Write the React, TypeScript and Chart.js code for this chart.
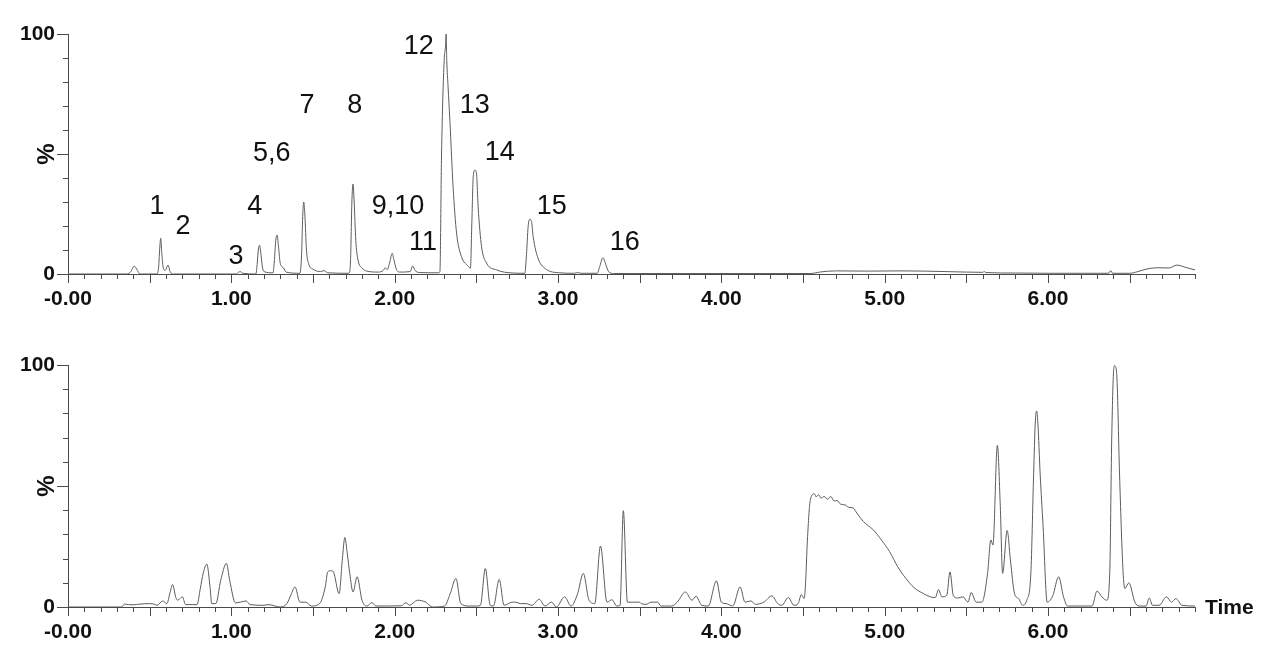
import { useEffect, useRef } from "react";
import { Chart, registerables } from "chart.js";

Chart.register(...registerables);

// ---------- data ----------
const topTimes = [
  0, 0.36, 0.385, 0.405, 0.425, 0.44, 0.545, 0.555, 0.561, 0.5675,
  0.574, 0.582, 0.595, 0.6125, 0.625, 0.645, 1.03, 1.045, 1.055, 1.07,
  1.15, 1.158, 1.165, 1.1725, 1.18, 1.19, 1.2, 1.255, 1.263, 1.272,
  1.28, 1.288, 1.298, 1.31, 1.32, 1.335, 1.42, 1.43, 1.437, 1.443,
  1.45, 1.46, 1.475, 1.5, 1.545, 1.5675, 1.59, 1.72, 1.73, 1.738,
  1.745, 1.752, 1.762, 1.775, 1.8, 1.83, 1.9, 1.93, 1.9425, 1.955,
  1.97, 1.985, 1.995, 2.01, 2.03, 2.095, 2.11, 2.125, 2.15, 2.27,
  2.277, 2.287, 2.303, 2.311, 2.315, 2.319, 2.327, 2.338, 2.358, 2.379,
  2.409, 2.45, 2.464, 2.472, 2.481, 2.491, 2.501, 2.511, 2.532, 2.562,
  2.624, 2.725, 2.797, 2.807, 2.817, 2.827, 2.838, 2.848, 2.878, 2.919,
  3.011, 3.1, 3.12, 3.14, 3.24, 3.255, 3.275, 3.29, 3.31, 3.34,
  4.55, 4.6, 4.7, 4.9, 5.1, 5.25, 5.5, 5.6, 5.61, 5.62,
  5.8, 6.0, 6.37, 6.385, 6.395, 6.5, 6.55, 6.6, 6.63, 6.68,
  6.74, 6.79, 6.84, 6.9,
];
const topValues = [
  0, 0, 1, 3.3, 1.5, 0, 0, 3, 10, 14.9,
  9, 3, 1.5, 3.7, 1, 0, 0, 0.8, 1, 0.3,
  0, 4, 10, 12, 9, 3, 1, 0.5, 5, 14,
  16.2, 12, 5, 3, 2.5, 0.8, 0.3, 8, 24, 30,
  25, 10, 4, 2, 1, 1.4, 0.5, 0.3, 6, 30,
  37.5, 30, 14, 6, 2.5, 1.2, 0.8, 1.5, 2.6, 1.8,
  5, 8.6, 6, 2, 0.8, 1, 3.3, 1.5, 0.6, 0.5,
  1, 50, 89, 94.7, 100, 89, 78, 64, 36, 17,
  7.2, 3.3, 2.4, 20, 40.5, 43.3, 42, 28, 11.4, 4.6,
  1.7, 0.4, 0.3, 8, 19.7, 22.8, 21.9, 15.5, 6.5, 2.4,
  0.5, 0.3, 0.6, 0.3, 0.3, 3, 6.8, 4.5, 1, 0.2,
  0.2, 0.8, 1.3, 1.2, 1.3, 1.2, 0.8, 0.7, 1, 0.6,
  0.4, 0.3, 0.3, 1.4, 0.3, 0.3, 1, 2, 2.4, 2.6,
  2.5, 3.7, 2.8, 1.7,
];

const bottomTimes = [
  0, 0.33, 0.345, 0.37, 0.4, 0.44, 0.5, 0.53, 0.545, 0.58,
  0.605, 0.625, 0.64, 0.66, 0.672, 0.7, 0.72, 0.76, 0.79, 0.81,
  0.828, 0.85, 0.87, 0.88, 0.905, 0.935, 0.97, 0.99, 1.025, 1.055,
  1.09, 1.115, 1.2, 1.225, 1.3, 1.34, 1.365, 1.39, 1.42, 1.455,
  1.49, 1.54, 1.575, 1.59, 1.61, 1.625, 1.66, 1.68, 1.695, 1.71,
  1.725, 1.745, 1.77, 1.8, 1.83, 1.86, 1.885, 2.04, 2.07, 2.09,
  2.14, 2.19, 2.23, 2.305, 2.34, 2.375, 2.405, 2.455, 2.505, 2.525,
  2.555, 2.585, 2.605, 2.64, 2.67, 2.72, 2.74, 2.77, 2.805, 2.84,
  2.885, 2.92, 2.96, 2.99, 3.04, 3.08, 3.12, 3.155, 3.19, 3.225,
  3.26, 3.3, 3.33, 3.36, 3.38, 3.4, 3.425, 3.455, 3.5, 3.51,
  3.54, 3.57, 3.61, 3.63, 3.695, 3.73, 3.78, 3.82, 3.845, 3.88,
  3.92, 3.97, 4.0, 4.03, 4.07, 4.115, 4.145, 4.18, 4.21, 4.26,
  4.31, 4.345, 4.37, 4.41, 4.445, 4.47, 4.49, 4.507, 4.515, 4.527,
  4.545, 4.57, 4.58, 4.595, 4.61, 4.63, 4.65, 4.67, 4.69, 4.708,
  4.73, 4.757, 4.78, 4.807, 4.83, 4.87, 4.93, 4.98, 5.03, 5.08,
  5.13, 5.18, 5.23, 5.28, 5.31, 5.33, 5.35, 5.38, 5.4, 5.42,
  5.445, 5.48, 5.51, 5.53, 5.56, 5.595, 5.63, 5.65, 5.663, 5.69,
  5.708, 5.722, 5.75, 5.77, 5.795, 5.82, 5.845, 5.87, 5.895, 5.912,
  5.922, 5.93, 5.938, 5.952, 5.97, 5.995, 6.03, 6.065, 6.095, 6.12,
  6.27, 6.3, 6.33, 6.36, 6.378, 6.39, 6.402, 6.4075, 6.42, 6.438,
  6.458, 6.47, 6.495, 6.532, 6.557, 6.6, 6.62, 6.64, 6.68, 6.725,
  6.757, 6.783, 6.82, 6.9,
];
const bottomValues = [
  0, 0, 1.2, 1.0, 0.9, 1.2, 1.4, 1.1, 0.7, 2.5,
  1.4, 6, 9.3, 4, 2.8, 4.2, 1.0, 1.0, 1.0, 7.6,
  14, 17.7, 8, 1.4, 1.4, 11, 18, 11, 1.7, 2,
  2.5, 1, 0.7, 1, 0, 1.4, 5, 8.3, 2, 2,
  0.4, 1.4, 8.3, 14.5, 15, 14.5, 5.5, 20, 28.7, 22,
  13.9, 6.2, 12.5, 2.8, 0.4, 1.8, 0.4, 0.5, 1.8, 0.7,
  2.8, 2, 0, 0.4, 5.5, 11.8, 1.4, 0.4, 0.4, 0.7,
  15.9, 0.7, 0.4, 11.4, 0.7, 2, 2, 1.4, 1.4, 0.7,
  3.2, 0.4, 2, 0, 4.2, 0.4, 5.5, 13.9, 2.8, 1.4,
  25.2, 2, 3, 0.4, 0.7, 39.8, 2, 2, 2, 1.4,
  1.1, 2, 2, 0.4, 0.4, 2, 6.2, 2.8, 4.4, 0.7,
  0.4, 10.8, 2, 1.4, 0.4, 8.3, 2, 2.5, 1.1, 2,
  4.6, 1.4, 0.7, 3.9, 0.7, 1.4, 5.1, 3.5, 9, 27.7,
  44.3, 46.8, 45.5, 46.4, 45, 45.7, 44.5, 45.7, 43.8, 44,
  42.5, 42.2, 41.2, 40.9, 38.8, 35.3, 31.9, 27.7, 22.9, 16.6,
  11.8, 8, 5.8, 4.2, 3.9, 7.2, 4.2, 4.8, 14.5, 4.8,
  3.7, 4.2, 2, 6, 2, 2, 13.9, 27.7, 25.6, 66.8,
  41.5, 13.9, 31.6, 19.4, 5.5, 3.5, 0.7, 2.8, 13.9, 55,
  76, 81, 76, 55, 33.2, 2, 4.8, 12.5, 4.2, 0.4,
  0.4, 6.6, 4.2, 2.8, 13.9, 69, 98, 99.7, 97, 55,
  16.6, 7.6, 10, 2, 0.4, 0.4, 3.7, 0.7, 0.7, 4.2,
  2, 3.5, 0.7, 0.4,
];

const xTickLabels = ["-0.00", "1.00", "2.00", "3.00", "4.00", "5.00", "6.00"];
const yLabelValues = [0, 100];
const yLabelTexts = ["0", "100"];
const yMidLabel = "%";
const xTitle = "Time";

const peakLabels = ["1", "2", "3", "4", "5,6", "7", "8", "9,10", "11", "12", "13", "14", "15", "16"];
const peakLabelTimes = [0.545, 0.704, 1.028, 1.144, 1.248, 1.463, 1.756, 2.02, 2.173, 2.148, 2.49, 2.644, 2.962, 3.409];
const peakLabelLevels = [28.3, 19.6, 7.1, 28.3, 50, 70, 70, 28.3, 13.3, 94.6, 70, 50.4, 27.9, 13.3];

// ---------- styling ----------
const FONT = "'Liberation Sans', Arial, Helvetica, sans-serif";
const AXIS_COLOR = "#4a4a4a";
const LINE_COLOR = "#5c5c5c";
const TEXT_COLOR = "#111111";
const W = 1280;

const decorPlugin = {
  id: "decor",
  afterDraw(chart: any, _args: any, opts: any) {
    const ctx = chart.ctx;
    const xs = chart.scales.x;
    const ys = chart.scales.y;
    ctx.save();
    ctx.strokeStyle = AXIS_COLOR;
    ctx.lineWidth = 1;
    ctx.beginPath();
    xs.ticks.forEach((t: any) => {
      const px = Math.round(xs.getPixelForValue(t.value)) + 0.5;
      const major = Math.abs(t.value * 2 - Math.round(t.value * 2)) < 1e-6;
      const len = major ? 9 : 5;
      ctx.moveTo(px, ys.bottom);
      ctx.lineTo(px, ys.bottom + len);
    });
    ys.ticks.forEach((t: any) => {
      const py = Math.round(ys.getPixelForValue(t.value)) + 0.5;
      const major = Math.abs(t.value % 50) < 1e-6;
      const len = major ? 11 : 5;
      ctx.moveTo(xs.left, py);
      ctx.lineTo(xs.left - len, py);
    });
    ctx.stroke();

    ctx.fillStyle = TEXT_COLOR;
    // rotated % at the 50 level
    ctx.save();
    ctx.translate(47, ys.getPixelForValue(50));
    ctx.rotate(-Math.PI / 2);
    ctx.font = `bold 24px ${FONT}`;
    ctx.textAlign = "center";
    ctx.textBaseline = "middle";
    ctx.fillText(yMidLabel, 0, 0);
    ctx.restore();

    if (opts.showTime) {
      ctx.font = `bold 21px ${FONT}`;
      ctx.textAlign = "left";
      ctx.textBaseline = "middle";
      ctx.fillText(xTitle, xs.right + 10, ys.bottom + 1);
    }

    if (opts.showPeaks) {
      ctx.font = `27px ${FONT}`;
      ctx.textAlign = "center";
      ctx.textBaseline = "middle";
      peakLabels.forEach((txt, i) => {
        ctx.fillText(txt, xs.getPixelForValue(peakLabelTimes[i]), ys.getPixelForValue(peakLabelLevels[i]));
      });
    }
    ctx.restore();
  },
};

function makeChart(
  canvas: HTMLCanvasElement,
  times: number[],
  values: number[],
  canvasH: number,
  plotTop: number,
  plotBottom: number,
  showTime: boolean,
  showPeaks: boolean
) {
  const data = times.map((t, i) => ({ x: t, y: values[i] }));
  return new Chart(canvas, {
    type: "line",
    data: {
      datasets: [
        {
          data,
          borderColor: LINE_COLOR,
          borderWidth: 1,
          pointRadius: 0,
          fill: false,
          cubicInterpolationMode: "monotone",
        },
      ],
    },
    options: {
      animation: false,
      responsive: false,
      maintainAspectRatio: false,
      events: [],
      layout: { padding: { top: plotTop, right: W - 1195, left: 0, bottom: 0 } },
      plugins: {
        legend: { display: false },
        tooltip: { enabled: false },
        decor: { showTime, showPeaks },
      } as any,
      scales: {
        x: {
          type: "linear",
          min: 0,
          max: 6.9,
          afterBuildTicks: (s: any) => {
            s.ticks = Array.from({ length: 70 }, (_, i) => ({ value: i / 10 }));
          },
          afterFit: (s: any) => {
            s.height = canvasH - plotBottom;
          },
          grid: { display: false, drawTicks: false },
          border: { display: true, color: AXIS_COLOR, width: 1 },
          ticks: {
            autoSkip: false,
            maxRotation: 0,
            minRotation: 0,
            padding: 13,
            color: TEXT_COLOR,
            font: { family: FONT, size: 21, weight: "bold" },
            callback: (v: any) => {
              const n = Number(v);
              const r = Math.round(n);
              return Math.abs(n - r) < 1e-6 && r < xTickLabels.length ? xTickLabels[r] : "";
            },
          },
        },
        y: {
          type: "linear",
          min: 0,
          max: 100,
          afterBuildTicks: (s: any) => {
            s.ticks = Array.from({ length: 11 }, (_, i) => ({ value: i * 10 }));
          },
          afterFit: (s: any) => {
            s.width = 68;
          },
          grid: { display: false, drawTicks: false },
          border: { display: true, color: AXIS_COLOR, width: 1 },
          ticks: {
            autoSkip: false,
            padding: 13,
            color: TEXT_COLOR,
            font: { family: FONT, size: 21, weight: "bold" },
            callback: (v: any) => {
              const idx = yLabelValues.indexOf(Number(v));
              return idx >= 0 ? yLabelTexts[idx] : "";
            },
          },
        },
      },
    } as any,
    plugins: [decorPlugin],
  });
}

export default function App() {
  const topRef = useRef<HTMLCanvasElement>(null);
  const botRef = useRef<HTMLCanvasElement>(null);

  useEffect(() => {
    const c1 = makeChart(topRef.current!, topTimes, topValues, 330, 34, 274, false, true);
    const c2 = makeChart(botRef.current!, bottomTimes, bottomValues, 340, 35, 277, true, false);
    return () => {
      c1.destroy();
      c2.destroy();
    };
  }, []);

  return (
    <div style={{ position: "absolute", left: 0, top: 0, width: W, height: 670, background: "#fff" }}>
      <canvas ref={topRef} width={W} height={330} style={{ position: "absolute", left: 0, top: 0, display: "block" }} />
      <canvas ref={botRef} width={W} height={340} style={{ position: "absolute", left: 0, top: 330, display: "block" }} />
    </div>
  );
}
